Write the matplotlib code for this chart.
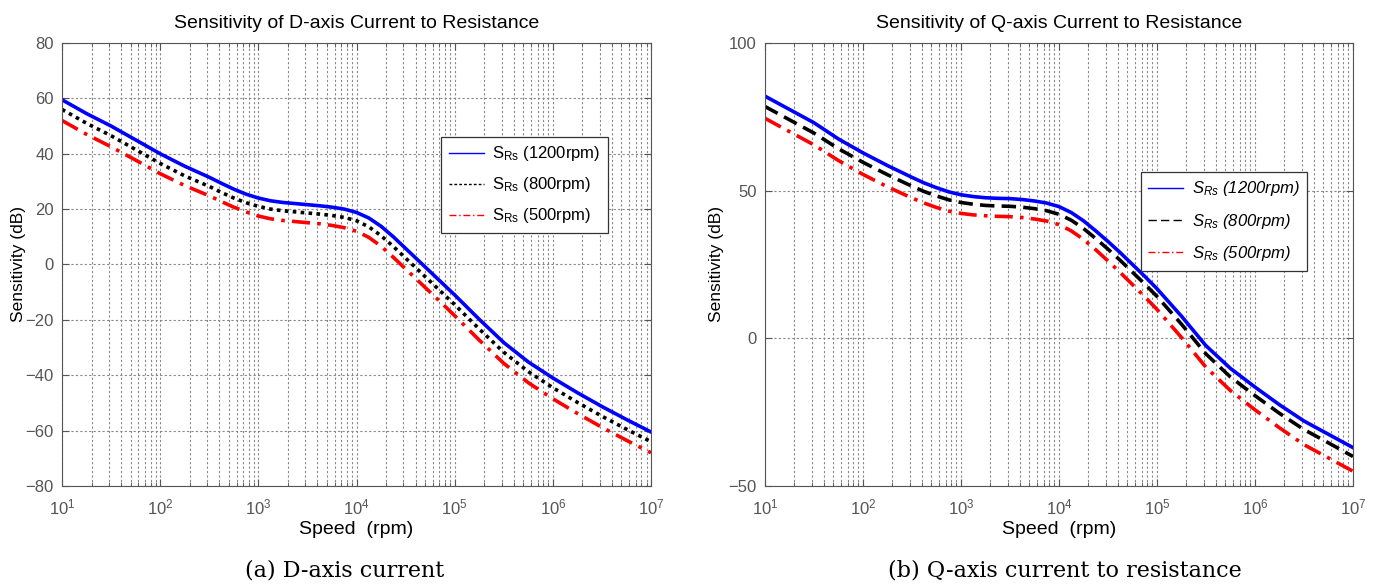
import matplotlib
matplotlib.use("Agg")
import matplotlib.pyplot as plt
from matplotlib.lines import Line2D
from matplotlib.ticker import NullFormatter

plt.rcParams["font.family"] = ["Liberation Sans", "DejaVu Sans"]
plt.rcParams["mathtext.fontset"] = "custom"
plt.rcParams["mathtext.rm"] = "Liberation Sans"
plt.rcParams["mathtext.it"] = "Liberation Sans:italic"

# speed points as log10(rpm); finer near the knees
log_speed = [1.0, 1.25, 1.5, 1.75, 2.0, 2.25, 2.5, 2.625, 2.75, 2.875, 3.0, 3.125, 3.25,
             3.375, 3.5, 3.625, 3.75, 3.875, 4.0, 4.125, 4.25, 4.375, 4.5, 4.625, 4.75,
             4.875, 5.0, 5.25, 5.5, 5.75, 6.0, 6.25, 6.5, 6.75, 7.0]
speed = [10 ** v for v in log_speed]

# D-axis sensitivity (dB)
d_1200 = [59.5, 54.5, 50.0, 45.0, 40.0, 35.5, 31.5, 29.3, 27.2, 25.4, 24.0, 23.0, 22.4,
          22.0, 21.6, 21.2, 20.7, 20.0, 18.8, 16.8, 13.8, 10.0, 5.8, 1.6, -2.6,
          -6.8, -11.0, -19.8, -28.2, -35.2, -41.0, -46.3, -51.3, -56.0, -60.5]
d_800 = [56.0, 51.0, 46.5, 41.5, 36.5, 32.0, 28.2, 26.0, 24.0, 22.3, 21.0, 20.0, 19.4,
         19.0, 18.6, 18.2, 17.7, 17.0, 15.8, 13.6, 10.4, 6.5, 2.3, -1.9, -6.1,
         -10.3, -14.5, -23.3, -31.7, -38.7, -44.5, -49.8, -54.8, -59.5, -64.0]
d_500 = [52.0, 47.0, 42.5, 37.7, 32.8, 28.5, 24.8, 22.7, 20.7, 19.0, 17.5, 16.5, 15.9,
         15.5, 15.1, 14.7, 14.1, 13.3, 12.0, 9.8, 6.6, 2.6, -1.6, -5.8, -10.0,
         -14.2, -18.5, -27.3, -35.7, -42.7, -48.5, -53.8, -58.8, -63.5, -68.0]

# Q-axis sensitivity (dB)
q_1200 = [82.0, 77.5, 73.0, 67.5, 62.8, 58.5, 54.5, 52.6, 51.0, 49.6, 48.6, 48.0, 47.6,
          47.4, 47.3, 47.0, 46.5, 45.8, 44.6, 42.6, 39.8, 36.4, 32.8, 29.0, 25.0,
          21.0, 16.8, 7.5, -2.5, -10.2, -16.5, -22.5, -28.0, -32.5, -37.0]
q_800 = [78.5, 74.0, 69.5, 64.2, 59.6, 55.4, 51.5, 49.7, 48.2, 46.9, 46.0, 45.4, 45.0,
         44.8, 44.7, 44.4, 43.9, 43.2, 42.0, 40.0, 37.2, 33.8, 30.2, 26.4, 22.4,
         18.4, 14.2, 4.8, -5.3, -13.1, -19.4, -25.4, -30.9, -35.4, -40.0]
q_500 = [74.5, 70.0, 65.5, 60.2, 55.5, 51.3, 47.5, 45.8, 44.3, 43.1, 42.3, 41.8, 41.5,
         41.3, 41.2, 40.9, 40.4, 39.7, 38.5, 36.4, 33.5, 30.0, 26.2, 22.3, 18.2,
         14.1, 9.8, 0.3, -9.8, -17.7, -24.2, -30.3, -36.0, -40.5, -45.0]

labels = ["(1200rpm)", "(800rpm)", "(500rpm)"]
decades = [10 ** k for k in range(1, 8)]
grey = "#555555"

fig = plt.figure(figsize=(13.81, 5.88), dpi=100)
ax1 = fig.add_axes([0.0449, 0.1735, 0.4265, 0.7534])
ax2 = fig.add_axes([0.5539, 0.1735, 0.4258, 0.7534])


def style_axes(ax, ylim, yticks, ylabel_x):
    ax.set_xscale("log")
    ax.set_xlim(1e1, 1e7)
    ax.set_ylim(*ylim)
    ax.set_yticks(yticks)
    ax.set_xticks(decades)
    ax.set_xticks([m * d for d in decades[:-1] for m in range(2, 10)], minor=True)
    ax.xaxis.set_minor_formatter(NullFormatter())
    ax.grid(True, which="major", axis="both", ls=(0, (2, 2)), color="#888888", lw=0.8)
    ax.grid(True, which="minor", axis="x", ls=(0, (2, 2)), color="#888888", lw=0.8)
    ax.tick_params(which="both", direction="in", colors=grey, labelsize=12, top=True, right=True)
    ax.tick_params(which="major", length=5)
    ax.tick_params(which="minor", length=3)
    ax.tick_params(axis="y", pad=6)
    ax.tick_params(axis="x", pad=8)
    for s in ax.spines.values():
        s.set_color(grey)
    ax.set_xlabel("Speed  (rpm)", fontsize=14, labelpad=3)
    ax.set_ylabel("Sensitivity (dB)", fontsize=12.5)
    ax.yaxis.set_label_coords(ylabel_x, 0.5)


# (a) D-axis
ax1.plot(speed, d_1200, color="#0000ff", lw=2.6, ls="-")
ax1.plot(speed, d_800, color="black", lw=2.6, ls=(0, (1, 1.2)))
ax1.plot(speed, d_500, color="#ff0000", lw=2.6, ls=(0, (5, 2, 1, 2)))
style_axes(ax1, (-80, 80), range(-80, 81, 20), -0.061)
ax1.set_title("Sensitivity of D-axis Current to Resistance", fontsize=14, pad=11)
h1 = [Line2D([], [], color="#0000ff", lw=1, ls="-"),
      Line2D([], [], color="black", lw=1, ls=(0, (2, 1.5))),
      Line2D([], [], color="#ff0000", lw=1, ls=(0, (5, 2, 1, 2)))]
leg1 = ax1.legend(h1, [r"$\mathrm{S}_{\mathrm{Rs}}$ " + l for l in labels],
                  loc="upper right", bbox_to_anchor=(0.927, 0.788), fontsize=12,
                  fancybox=False, edgecolor="#333333", framealpha=1,
                  handlelength=2.1, handletextpad=0.5, labelspacing=0.72,
                  borderpad=0.45, borderaxespad=0)
leg1.get_frame().set_linewidth(0.9)

# (b) Q-axis
ax2.plot(speed, q_1200, color="#0000ff", lw=2.6, ls="-")
ax2.plot(speed, q_800, color="black", lw=2.6, ls=(0, (4, 2)))
ax2.plot(speed, q_500, color="#ff0000", lw=2.6, ls=(0, (5, 2, 1, 2)))
style_axes(ax2, (-50, 100), range(-50, 101, 50), -0.07)
ax2.set_title("Sensitivity of Q-axis Current to Resistance", fontsize=14, pad=11)
h2 = [Line2D([], [], color="#0000ff", lw=1, ls="-"),
      Line2D([], [], color="black", lw=1, ls=(0, (6, 3))),
      Line2D([], [], color="#ff0000", lw=1, ls=(0, (5, 2, 1, 2)))]
leg2 = ax2.legend(h2, [r"$S_{Rs}$ " + l for l in labels],
                  loc="upper right", bbox_to_anchor=(0.922, 0.709),
                  prop={"size": 12, "style": "italic"},
                  fancybox=False, edgecolor="#333333", framealpha=1,
                  handlelength=2.1, handletextpad=0.5, labelspacing=0.8,
                  borderpad=0.45, borderaxespad=0)
leg2.get_frame().set_linewidth(0.9)

# subfigure captions
fig.text(345 / 1381, 1 - 571 / 588, "(a) D-axis current", ha="center", va="center",
         fontsize=16, family=["DejaVu Serif"])
fig.text(1065 / 1381, 1 - 571 / 588, "(b) Q-axis current to resistance", ha="center",
         va="center", fontsize=16, family=["DejaVu Serif"])

fig.savefig("out.png", dpi=100)
